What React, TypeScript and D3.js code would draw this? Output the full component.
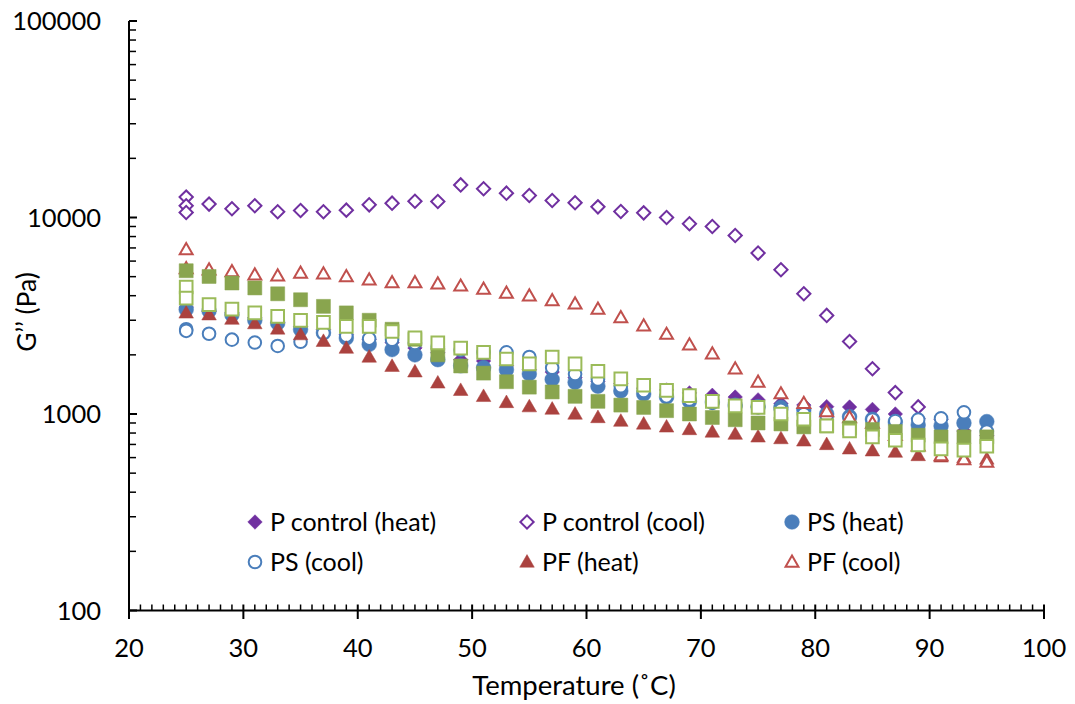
import React from 'react';
import * as d3 from 'd3';

// ---------- data ----------
const TEMPS = [25, 27, 29, 31, 33, 35, 37, 39, 41, 43, 45, 47, 49, 51, 53, 55, 57, 59, 61, 63, 65, 67, 69, 71, 73, 75, 77, 79, 81, 83, 85, 87, 89, 91, 93, 95];

const P_HEAT = [3500, 3330, 3270, 3085, 2925, 2790, 2690, 2535, 2390, 2310, 2170, 2050, 1890, 1860, 1760, 1680, 1635, 1530, 1465, 1430, 1355, 1325, 1280, 1245, 1220, 1180, 1130, 1110, 1090, 1085, 1055, 1000, 950, 937, 820, 775];

const P_COOL_T = [25, 25, 25, 27, 29, 31, 33, 35, 37, 39, 41, 43, 45, 47, 49, 51, 53, 55, 57, 59, 61, 63, 65, 67, 69, 71, 73, 75, 77, 79, 81, 83, 85, 87, 89];
const P_COOL = [12700, 11470, 10600, 11700, 11070, 11470, 10690, 10860, 10690, 10900, 11600, 11830, 12100, 12060, 14650, 14000, 13300, 12940, 12200, 11880, 11330, 10730, 10560, 10000, 9290, 9000, 8100, 6590, 5420, 4090, 3175, 2340, 1700, 1285, 1087];

const PS_HEAT = [3400, 3350, 3200, 3000, 2900, 2690, 2590, 2435, 2260, 2126, 2000, 1890, 1760, 1720, 1680, 1600, 1500, 1450, 1385, 1310, 1265, 1220, 1160, 1150, 1110, 1090, 1080, 1050, 1000, 970, 940, 910, 880, 870, 900, 915];

const PS_COOL_T = [25, 25, 27, 29, 31, 33, 35, 37, 39, 41, 43, 45, 47, 49, 51, 53, 55, 57, 59, 61, 63, 65, 67, 69, 71, 73, 75, 77, 79, 81, 83, 85, 87, 89, 91, 93, 95];
const PS_COOL = [2700, 2650, 2560, 2390, 2310, 2220, 2330, 2580, 2500, 2420, 2390, 2300, 2200, 2120, 2060, 2060, 1950, 1720, 1600, 1500, 1385, 1310, 1230, 1185, 1140, 1090, 1080, 1050, 1000, 980, 960, 937, 920, 937, 950, 1020, 815];

const PF_HEAT = [3270, 3200, 3040, 2885, 2710, 2535, 2345, 2165, 1950, 1750, 1640, 1440, 1320, 1230, 1145, 1090, 1060, 1000, 960, 920, 890, 860, 834, 810, 790, 765, 750, 730, 700, 665, 650, 640, 615, 605, 600, 590];

const PF_COOL_T = [25, 25, 27, 29, 31, 33, 35, 37, 39, 41, 43, 45, 47, 49, 51, 53, 55, 57, 59, 61, 63, 65, 67, 69, 71, 73, 75, 77, 79, 81, 83, 85, 87, 89, 91, 93, 95];
const PF_COOL = [6880, 5500, 5420, 5310, 5110, 5050, 5215, 5170, 5010, 4820, 4670, 4670, 4600, 4490, 4325, 4130, 4000, 3785, 3640, 3420, 3100, 2815, 2550, 2250, 2027, 1700, 1455, 1270, 1135, 1030, 960, 900, 780, 690, 615, 587, 570];

const GREEN_HEAT = [5360, 5010, 4640, 4380, 4090, 3815, 3530, 3270, 3000, 2700, 2400, 2000, 1755, 1615, 1460, 1370, 1295, 1230, 1160, 1110, 1080, 1040, 1000, 960, 935, 900, 890, 860, 870, 850, 834, 815, 780, 765, 765, 765];

const GREEN_COOL_T = [25, 25, 27, 29, 31, 33, 35, 37, 39, 41, 43, 45, 47, 49, 51, 53, 55, 57, 59, 61, 63, 65, 67, 69, 71, 73, 75, 77, 79, 81, 83, 85, 87, 89, 91, 93, 95];
const GREEN_COOL = [4430, 3890, 3600, 3420, 3270, 3140, 2995, 2925, 2790, 2790, 2630, 2440, 2300, 2165, 2060, 1905, 1800, 1950, 1800, 1650, 1510, 1400, 1320, 1240, 1160, 1100, 1080, 1000, 940, 870, 820, 765, 735, 695, 665, 655, 685];

const X_TICKS = [20, 30, 40, 50, 60, 70, 80, 90, 100];
const Y_TICKS = [100, 1000, 10000, 100000];
const Y_TICK_LABELS = ['100', '1000', '10000', '100000'];

const LEGEND_LABELS = ['P control (heat)', 'P control (cool)', 'PS (heat)', 'PS (cool)', 'PF (heat)', 'PF (cool)'];

// ---------- styling ----------
const PURPLE = '#7030A0';
const BLUE = '#4A7EBB';
const RED_FILL = '#AB423F';
const RED_LINE = '#C0504D';
const GREEN_FILL = '#89A54E';
const GREEN_LINE = '#9BBB59';
const FONT = 'Lato, Carlito, Calibri, sans-serif';

type Shape = 'diamond' | 'circle' | 'triangle' | 'square';
interface SeriesDef {
  xs: number[];
  ys: number[];
  shape: Shape;
  filled: boolean;
  fill: string;
  stroke: string;
}

const SERIES: SeriesDef[] = [
  { xs: TEMPS, ys: P_HEAT, shape: 'diamond', filled: true, fill: PURPLE, stroke: PURPLE },
  { xs: P_COOL_T, ys: P_COOL, shape: 'diamond', filled: false, fill: PURPLE, stroke: PURPLE },
  { xs: TEMPS, ys: PS_HEAT, shape: 'circle', filled: true, fill: BLUE, stroke: BLUE },
  { xs: PS_COOL_T, ys: PS_COOL, shape: 'circle', filled: false, fill: BLUE, stroke: BLUE },
  { xs: TEMPS, ys: PF_HEAT, shape: 'triangle', filled: true, fill: RED_FILL, stroke: RED_FILL },
  { xs: PF_COOL_T, ys: PF_COOL, shape: 'triangle', filled: false, fill: RED_LINE, stroke: RED_LINE },
  { xs: TEMPS, ys: GREEN_HEAT, shape: 'square', filled: true, fill: GREEN_FILL, stroke: GREEN_FILL },
  { xs: GREEN_COOL_T, ys: GREEN_COOL, shape: 'square', filled: false, fill: GREEN_LINE, stroke: GREEN_LINE },
];

function symbolPath(shape: Shape, filled: boolean): string {
  const gen = d3.symbol();
  if (shape === 'circle') return gen.type(d3.symbolCircle).size(filled ? 170 : 125)() || '';
  if (shape === 'triangle') return gen.type(d3.symbolTriangle).size(filled ? 92 : 72)() || '';
  if (shape === 'square') return gen.type(d3.symbolSquare).size(filled ? 196 : 160)() || '';
  return gen.type(d3.symbolSquare).size(filled ? 105 : 88)() || '';
}

function Marker({ s, x, y }: { s: SeriesDef; x: number; y: number }) {
  const d = symbolPath(s.shape, s.filled);
  const rot = s.shape === 'diamond' ? ' rotate(45)' : '';
  const ty = s.shape === 'triangle' ? y + 1 : y;
  return (
    <path
      d={d}
      transform={`translate(${x},${ty})${rot}`}
      fill={s.filled ? s.fill : '#fff'}
      stroke={s.stroke}
      strokeWidth={s.filled ? 0.5 : 2}
    />
  );
}

export default function App() {
  const W = 1075;
  const H = 704;
  const x = d3.scaleLinear().domain([20, 100]).range([129, 1044]);
  const y = d3.scaleLog().domain([100, 100000]).range([610.5, 21]);

  const yMinor: number[] = [];
  for (const dec of [100, 1000, 10000]) for (let k = 2; k <= 9; k++) yMinor.push(k * dec);
  const xMinor: number[] = d3.range(21, 100).filter((v) => v % 10 !== 0);

  const legendPos = [
    [255, 522], [527, 522], [792, 522],
    [255, 562], [527, 562], [792, 562],
  ];

  return (
    <svg width={W} height={H} style={{ position: 'absolute', left: 0, top: 0, background: '#fff' }} fontFamily={FONT}>
      <rect width={W} height={H} fill="#fff" />
      {/* axes */}
      <line x1={x(20)} x2={x(20)} y1={y(100000)} y2={619} stroke="#000" strokeWidth={2} />
      <line x1={x(20)} x2={x(100)} y1={y(100)} y2={y(100)} stroke="#000" strokeWidth={2} />
      {Y_TICKS.map((v) => (
        <line key={'ym' + v} x1={x(20)} x2={x(20) + 8} y1={y(v)} y2={y(v)} stroke="#000" strokeWidth={2} />
      ))}
      {yMinor.map((v) => (
        <line key={'yn' + v} x1={x(20)} x2={x(20) + 7} y1={y(v)} y2={y(v)} stroke="#000" strokeWidth={1.5} />
      ))}
      {X_TICKS.map((v) => (
        <line key={'xm' + v} x1={x(v)} x2={x(v)} y1={y(100) - 6} y2={y(100) + 8.5} stroke="#000" strokeWidth={2} />
      ))}
      {xMinor.map((v) => (
        <line key={'xn' + v} x1={x(v)} x2={x(v)} y1={y(100) - 6} y2={y(100)} stroke="#000" strokeWidth={1.5} />
      ))}
      {/* tick labels */}
      {Y_TICKS.map((v, i) => (
        <text key={'yl' + v} x={101} y={y(v) + 9} textAnchor="end" fontSize={25.5} fill="#000">
          {Y_TICK_LABELS[i]}
        </text>
      ))}
      {X_TICKS.map((v) => (
        <text key={'xl' + v} x={x(v)} y={657} textAnchor="middle" fontSize={25.5} fill="#000">
          {v}
        </text>
      ))}
      {/* axis titles */}
      <text x={574} y={695} textAnchor="middle" fontSize={27.5} fill="#000">
        Temperature (˚C)
      </text>
      <text transform="translate(36,312) rotate(-90)" textAnchor="middle" fontSize={26.5} fill="#000">
        G’’ (Pa)
      </text>
      {/* data */}
      {SERIES.map((s, si) => (
        <g key={'s' + si}>
          {s.ys.map((v, i) => (
            <Marker key={i} s={s} x={x(s.xs[i])} y={y(v)} />
          ))}
        </g>
      ))}
      {/* legend */}
      {LEGEND_LABELS.map((lab, i) => (
        <g key={'lg' + i}>
          <Marker s={SERIES[i]} x={legendPos[i][0]} y={legendPos[i][1]} />
          <text x={legendPos[i][0] + 15} y={legendPos[i][1] + 8.5} fontSize={25} fill="#000">
            {lab}
          </text>
        </g>
      ))}
    </svg>
  );
}
